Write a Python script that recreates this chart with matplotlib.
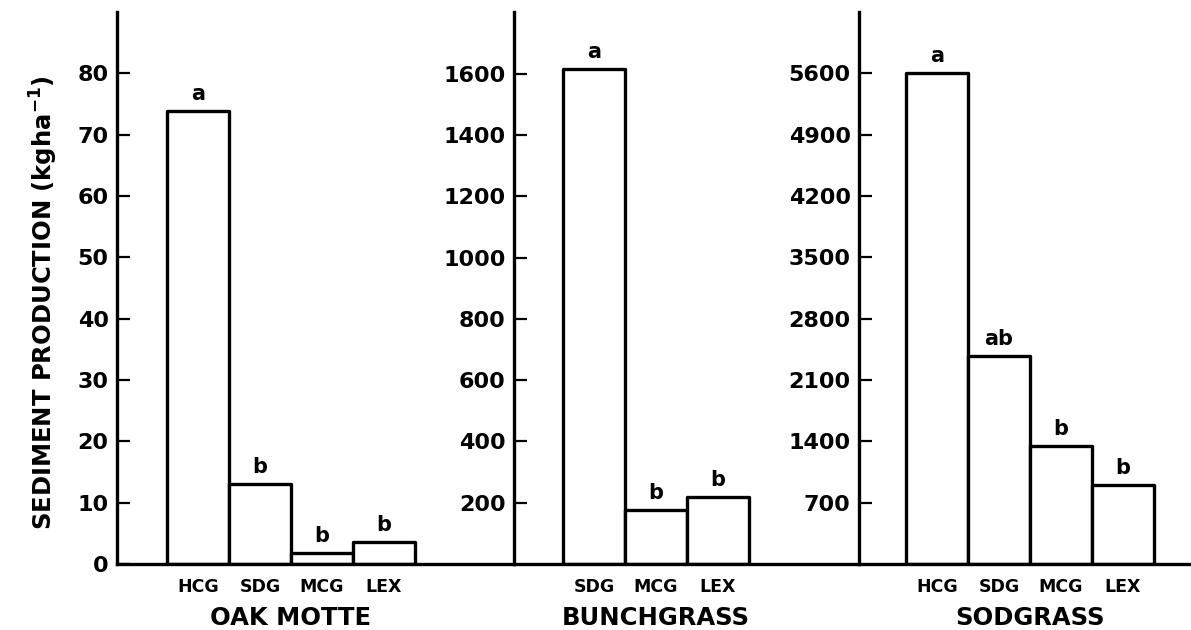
import matplotlib
matplotlib.use("Agg")
import matplotlib.pyplot as plt
import matplotlib.transforms as mtransforms

# ---- data -------------------------------------------------------------
oak_labels = ["HCG", "SDG", "MCG", "LEX"]
oak_values = [73.9, 13.0, 1.8, 3.6]
oak_letters = ["a", "b", "b", "b"]
oak_ticks = [0, 10, 20, 30, 40, 50, 60, 70, 80]

bunch_labels = ["SDG", "MCG", "LEX"]
bunch_values = [1615, 175, 220]
bunch_letters = ["a", "b", "b"]
bunch_ticks = [200, 400, 600, 800, 1000, 1200, 1400, 1600]

sod_labels = ["HCG", "SDG", "MCG", "LEX"]
sod_values = [5600, 2370, 1350, 900]
sod_letters = ["a", "ab", "b", "b"]
sod_ticks = [700, 1400, 2100, 2800, 3500, 4200, 4900, 5600]

titles = ["OAK MOTTE", "BUNCHGRASS", "SODGRASS"]
ylabel = r"SEDIMENT PRODUCTION (kgha$^{\mathbf{-1}}$)"

# ---- style ------------------------------------------------------------
plt.rcParams["font.family"] = ["DejaVu Sans"]
plt.rcParams["font.weight"] = "bold"
plt.rcParams["mathtext.default"] = "bf"

W, H = 1191, 630
fig = plt.figure(figsize=(W / 100, H / 100), dpi=100)
fig.patch.set_facecolor("white")

LW = 2.4
BAR_PX = 62.0          # width of one bar in pixels
BASE_Y = 564           # baseline, pixels from top
TOP_Y = 12             # top of the axis lines, pixels from top

# (axis x, right edge x, first bar left edge x, y-limit top)
layout = [
    (117, 514, 167, 90),
    (514, 859, 563, 1802),
    (859, 1191, 906, 6300),
]

panels = [
    (oak_labels, oak_values, oak_letters, oak_ticks),
    (bunch_labels, bunch_values, bunch_letters, bunch_ticks),
    (sod_labels, sod_values, sod_letters, sod_ticks),
]

for (labels, values, letters, ticks), (x0, x1, bar0, ytop), title in zip(panels, layout, titles):
    ax = fig.add_axes([x0 / W, (H - BASE_Y) / H, (x1 - x0) / W, (BASE_Y - TOP_Y) / H])
    xs = list(range(len(labels)))
    left = -0.5 - (bar0 - x0) / BAR_PX
    ax.set_xlim(left, left + (x1 - x0) / BAR_PX)
    ax.set_ylim(0, ytop)

    bars = ax.bar(xs, values, width=1.0, color="white", edgecolor="black",
                  linewidth=LW, zorder=2)
    for b in bars:
        b.set_joinstyle("round")

    for x, v, let in zip(xs, values, letters):
        ax.annotate(let, (x, v), xytext=(0, 5), textcoords="offset points",
                    ha="center", va="bottom", fontsize=15, fontweight="bold")

    ax.set_xticks(xs)
    ax.set_xticklabels(labels, fontsize=12.5, fontweight="bold")
    ax.tick_params(axis="x", length=0, pad=10)

    ax.set_yticks(ticks)
    ax.set_yticklabels([str(t) for t in ticks], fontsize=16, fontweight="bold")
    ax.tick_params(axis="y", direction="in", length=9, width=1.6, pad=6)

    for s in ("top", "right"):
        ax.spines[s].set_visible(False)
    for s in ("left", "bottom"):
        ax.spines[s].set_linewidth(LW)
        ax.spines[s].set_zorder(3)
    ax.patch.set_alpha(0)

    trans = mtransforms.blended_transform_factory(ax.transData, ax.transAxes)
    ax.text(sum(xs) / len(xs), -(618 - BASE_Y) / (BASE_Y - TOP_Y), title,
            transform=trans, ha="center", va="center",
            fontsize=17.5, fontweight="bold")

fig.text(44 / W, (H - 303) / H, ylabel, rotation=90, ha="center", va="center",
         fontsize=17.5, fontweight="bold")

fig.savefig("out.png", dpi=100, facecolor="white")
